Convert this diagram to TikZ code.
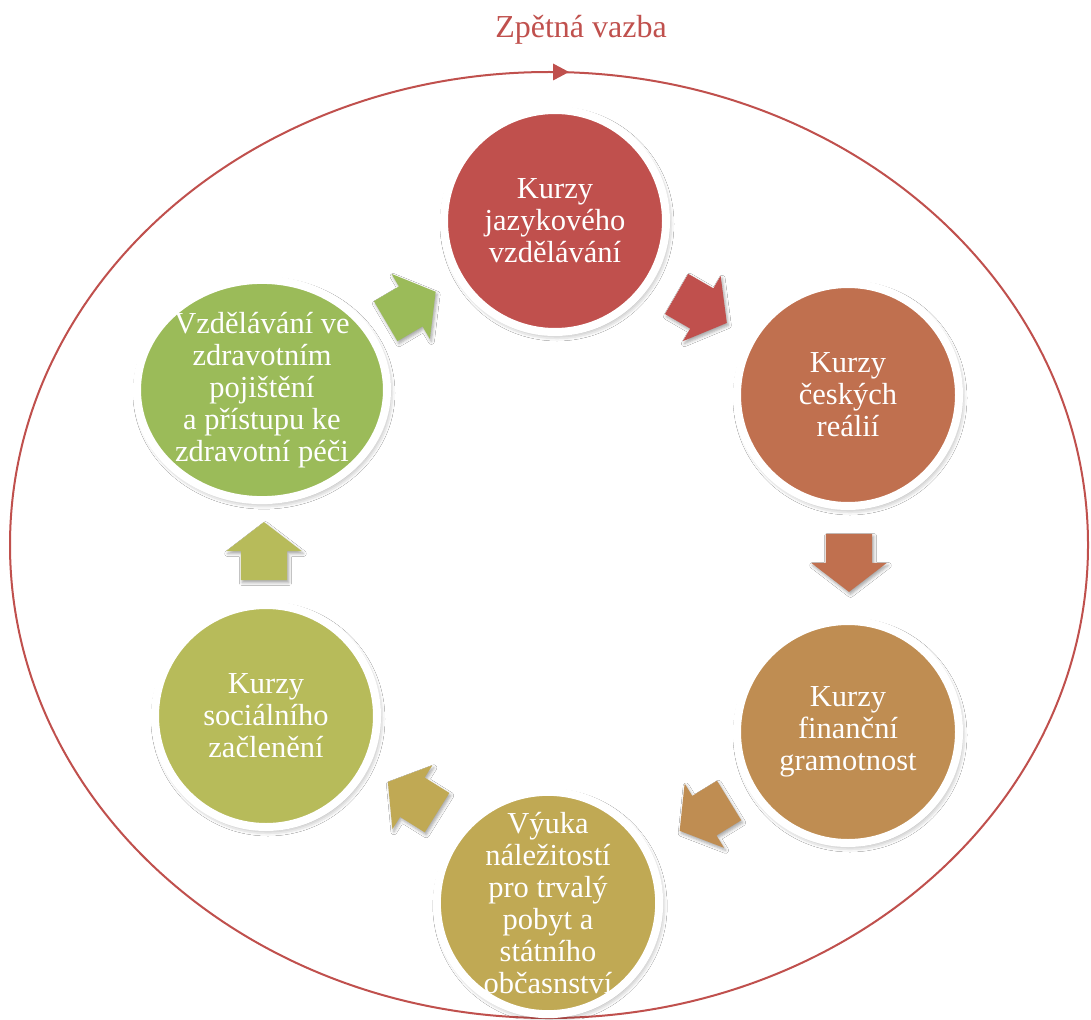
\documentclass[tikz,border=0pt]{standalone}
\usepackage{fontspec}
\setmainfont{Liberation Serif}
\usetikzlibrary{shapes.geometric,shapes.arrows,shadows.blur}
\definecolor{cRed}{HTML}{C0504D}
\definecolor{cA}{HTML}{C0504D}
\definecolor{cB}{HTML}{C0704F}
\definecolor{cC}{HTML}{BF8D52}
\definecolor{cD}{HTML}{C0A954}
\definecolor{cE}{HTML}{B7BB5A}
\definecolor{cF}{HTML}{9BBB59}
\begin{document}
\begin{tikzpicture}[x=1pt,y=-1pt,
  stage/.style={circle, minimum size=222pt, inner sep=0pt, draw=white, line width=8pt,
    text=white, align=center, font=\fontsize{30.5}{32}\selectfont,
    blur shadow={shadow xshift=2pt, shadow yshift=-3pt, shadow blur radius=6pt, shadow opacity=45}},
  flow/.style={single arrow, minimum height=58pt, inner xsep=0pt, inner ysep=23pt,
    single arrow head extend=14.5pt, single arrow tip angle=105, draw=none,
    blur shadow={shadow xshift=1.5pt, shadow yshift=-2.5pt, shadow blur radius=3pt, shadow opacity=35}},
  title/.style={text=cRed, font=\fontsize{32}{36}\selectfont}]
\useasboundingbox (0,0) rectangle (1091,1019);
\clip (0,0) rectangle (1091,1019);
\fill[white] (0,0) rectangle (1091,1019);
% feedback loop
\draw[cRed, line width=2pt] (549,545) ellipse [x radius=539, y radius=473];
\coordinate (tipbase) at (553,72);
\fill[cRed] ($(tipbase)+(0,-8.5)$) -- ++(16,8.5) -- ++(-16,8.5) -- cycle;
\node[title] (fb) at (581,30) {Zpětná vazba};
% stages
\node[stage, fill=cA] (s1) at (555,221) {Kurzy\\jazykového\\vzdělávání};
\node[stage, fill=cB] (s2) at (848,395) {Kurzy\\českých\\reálií};
\node[stage, fill=cC] (s3) at (848,732) {Kurzy\\finanční\\gramotnost};
\node[stage, fill=cD] (s4) at (548,903) {Výuka\\náležitostí\\pro trvalý\\pobyt a\\státního\\občasnství};
\node[stage, fill=cE] (s5) at (266,716) {Kurzy\\sociálního\\začlenění};
\node[stage, ellipse, minimum width=250pt, minimum height=200pt, fill=cF] (s6) at (262,390)
  {Vzdělávání ve\\zdravotním\\pojištění\\a přístupu ke\\zdravotní péči};
% arrows
\node[flow, fill=cA, rotate=-30] (a1) at (694,304) {};
\node[flow, fill=cB, rotate=-90] (a2) at (849,554) {};
\node[flow, fill=cC, rotate=-148.5] (a3) at (712,811) {};
\node[flow, fill=cD, rotate=148] (a4) at (420,802) {};
\node[flow, fill=cE, rotate=90] (a5) at (264,560) {};
\node[flow, fill=cF, rotate=30.5] (a6) at (403,311) {};
\end{tikzpicture}
\end{document}
